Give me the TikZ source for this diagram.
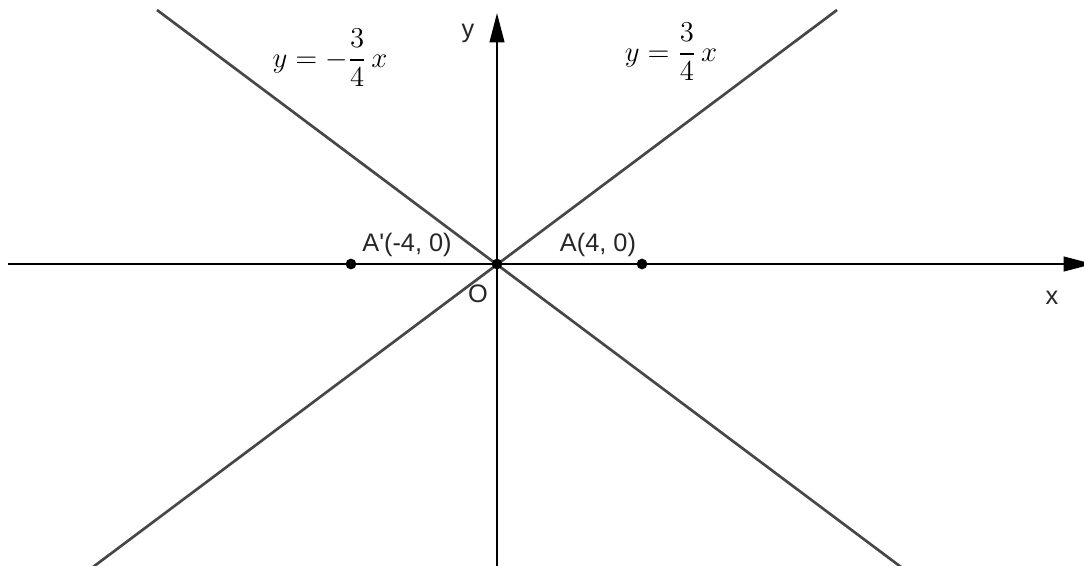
\documentclass[tikz,border=0pt]{standalone}
\usepackage{amsmath}
\usepackage{graphicx}
\usepackage{fontspec}
\setsansfont{Liberation Sans}
\usetikzlibrary{arrows.meta}
\newcommand{\bigeq}[1]{\scalebox{1.5}{\fontsize{14.4}{17}\selectfont$#1$}}
\begin{document}
\begin{tikzpicture}[x=0.75pt,y=-0.75pt,
  axis/.style={line width=1.5pt,black,-{Triangle[length=22pt,width=11pt]}},
  asym/.style={line width=2pt,color=black!72},
  pt/.style={circle,fill=black,inner sep=0pt,minimum size=8pt},
  lab/.style={font=\sffamily\fontsize{19}{22}\selectfont,text=black!85,inner sep=0pt},
  eq/.style={inner sep=0pt}]
\useasboundingbox (0,0) rectangle (1084,565);
\clip (0,0) rectangle (1084,565);
% axes
\coordinate (xl) at (8,264);
\coordinate (xr) at (1093,264);
\coordinate (yb) at (497,570);
\coordinate (yt) at (497,13);
\draw[axis] (xl) -- (xr);
\draw[axis] (yb) -- (yt);
% asymptote lines
\coordinate (p1) at (837,10);
\coordinate (p2) at (89,570);
\coordinate (q1) at (157,10);
\coordinate (q2) at (905,570);
\draw[asym] (p1) -- (p2);
\draw[asym] (q1) -- (q2);
% points
\node[pt] (O) at (497,264) {};
\node[pt] (A) at (642,264) {};
\node[pt] (Ap) at (351,264) {};
% labels
\node[lab] (ylab) at (468,33) {y};
\node[lab] (xlab) at (1052,298) {x};
\node[lab] (Olab) at (478,294) {O};
\node[lab] (Alab) at (598,245) {A(4, 0)};
\node[lab] (Aplab) at (407,245) {A\textquotesingle(-4, 0)};
\node[eq] (eq1) at (330,58) {\bigeq{y=-\dfrac{3}{4}\,x}};
\node[eq] (eq2) at (671,52) {\bigeq{y=\dfrac{3}{4}\,x}};
\end{tikzpicture}
\end{document}
